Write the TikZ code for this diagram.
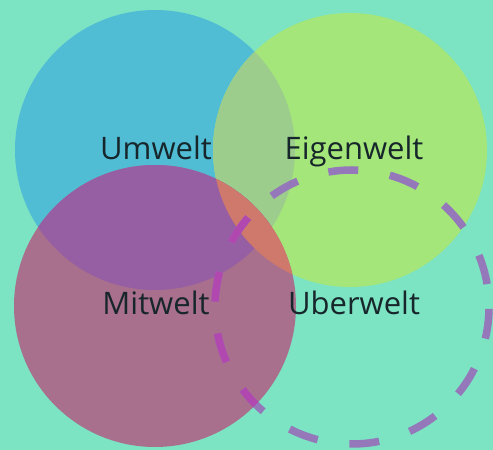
\documentclass[tikz,border=0pt]{standalone}
\usepackage{fontspec}
\setmainfont{Open Sans}
\definecolor{bgc}{HTML}{7CE3C3}
\definecolor{bluec}{HTML}{50BDD5}
\definecolor{greenc}{HTML}{A4E67A}
\definecolor{bgreenc}{HTML}{9CCD8C}
\definecolor{redc}{HTML}{A9708D}
\definecolor{rbluec}{HTML}{965EA3}
\definecolor{rgreenc}{HTML}{CF786C}
\definecolor{dashc}{HTML}{9478BA}
\definecolor{dashrc}{HTML}{B048B0}
\definecolor{textc}{HTML}{17262B}
\tikzset{
  lbl/.style={anchor=base, text=textc, font=\fontsize{31}{36}\selectfont, inner sep=0pt},
  dashring/.style={line width=7.5pt, dash pattern=on 30pt off 32pt, dash phase=39pt}
}
\begin{document}
\begin{tikzpicture}[x=1pt,y=1pt]
\useasboundingbox (0,0) rectangle (493,450);
\fill[bgc] (0,0) rectangle (493,450);
% circles
\coordinate (cb) at (155,300);
\coordinate (cg) at (350,300);
\coordinate (cr) at (155,144);
\coordinate (cd) at (352,143);
\fill[bluec] (cb) circle[radius=140];
\fill[greenc] (cg) circle[radius=137];
\begin{scope}
  \clip (cb) circle[radius=140];
  \fill[bgreenc] (cg) circle[radius=137];
\end{scope}
\fill[redc] (cr) circle[radius=141];
\begin{scope}
  \clip (cr) circle[radius=141];
  \fill[rbluec] (cb) circle[radius=140];
  \fill[rgreenc] (cg) circle[radius=137];
\end{scope}
% dashed ring
\draw[dashc, dashring] (cd) circle[radius=137];
\begin{scope}
  \clip (cr) circle[radius=141];
  \draw[dashrc, dashring] (cd) circle[radius=137];
\end{scope}
% labels
\node[lbl] (umwelt) at (156,290) {Umwelt};
\node[lbl] (eigenwelt) at (354,290) {Eigenwelt};
\node[lbl] (mitwelt) at (156,135) {Mitwelt};
\node[lbl] (uberwelt) at (354,135) {Uberwelt};
\end{tikzpicture}
\end{document}
